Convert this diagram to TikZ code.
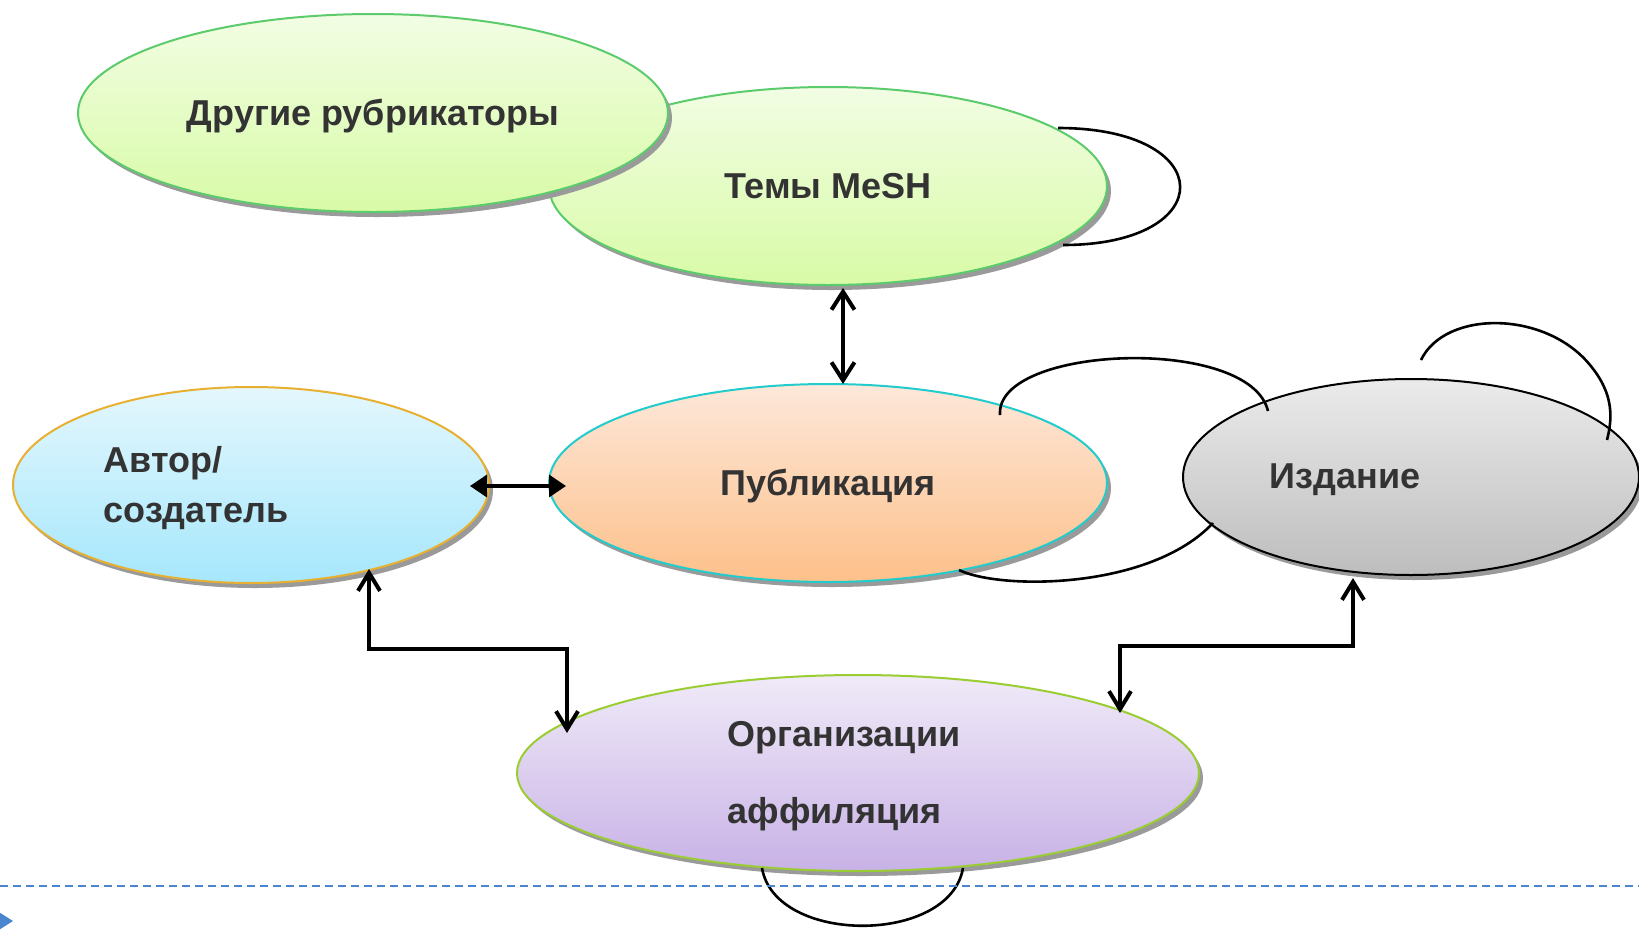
\documentclass[tikz,border=0pt]{standalone}
\usepackage{fontspec}
\setmainfont{Liberation Sans}
\usetikzlibrary{shapes.geometric,arrows.meta,calc}
\definecolor{txt}{HTML}{333333}
\definecolor{shadowgray}{HTML}{9A9A9A}
\definecolor{greenTop}{HTML}{F2FDE4}
\definecolor{greenBot}{HTML}{D8FBA6}
\definecolor{greenLine}{HTML}{5CCB6C}
\definecolor{pubTop}{HTML}{FDE8DA}
\definecolor{pubBot}{HTML}{FDC08A}
\definecolor{pubLine}{HTML}{22CCCC}
\definecolor{autTop}{HTML}{E4F7FD}
\definecolor{autBot}{HTML}{A6E7FC}
\definecolor{autLine}{HTML}{E8B030}
\definecolor{izdTop}{HTML}{EBEBEB}
\definecolor{izdBot}{HTML}{BDBDBD}
\definecolor{orgTop}{HTML}{F0EAF8}
\definecolor{orgBot}{HTML}{C8B2E6}
\definecolor{orgLine}{HTML}{9ACD32}
\definecolor{dashblue}{HTML}{4A86D0}
\begin{document}
\begin{tikzpicture}[x=1pt,y=-1pt,
  ell/.style={ellipse, inner sep=0pt, line width=2pt},
  shad/.style={ellipse, inner sep=0pt, fill=shadowgray},
  lbl/.style={font=\fontsize{36}{42}\selectfont\bfseries, text=txt, yshift=-3pt},
  loopline/.style={line width=2.6pt, black},
  barbs/.style={line width=4pt, arrows={Straight Barb[length=18pt,width=23pt]-Straight Barb[length=18pt,width=23pt]}},
  elbow/.style={line width=4pt, arrows={Straight Barb[length=18pt,width=22pt]-Straight Barb[length=18pt,width=22pt]}},
  tris/.style={line width=3.5pt, arrows={Triangle[length=17pt,width=22pt]-Triangle[length=17pt,width=22pt]}}
]
\useasboundingbox (0,0) rectangle (1639,930);

% Темы MeSH
\node[shad, minimum width=558pt, minimum height=198pt] (meshsh) at (832,191) {};
\node[ell, minimum width=558pt, minimum height=198pt, top color=greenTop, bottom color=greenBot, draw=greenLine] (mesh) at (828,186) {};
\node[lbl, yshift=3pt] (meshtext) at (mesh.center) {Темы MeSH};
% Другие рубрикаторы
\node[shad, minimum width=590pt, minimum height=198pt] (othersh) at (377,118) {};
\node[ell, minimum width=590pt, minimum height=198pt, top color=greenTop, bottom color=greenBot, draw=greenLine] (other) at (373,113) {};
\node[lbl] (othertext) at (other.center) {Другие рубрикаторы};
% Публикация
\node[shad, minimum width=558pt, minimum height=198pt] (pubsh) at (832,488) {};
\node[ell, minimum width=558pt, minimum height=198pt, top color=pubTop, bottom color=pubBot, draw=pubLine] (pub) at (828,483) {};
\node[lbl] (pubtext) at (pub.center) {Публикация};
% Автор
\node[shad, minimum width=476pt, minimum height=196pt] (authsh) at (255,490) {};
\node[ell, minimum width=476pt, minimum height=196pt, top color=autTop, bottom color=autBot, draw=autLine] (author) at (251,485) {};
\node[lbl, anchor=west, align=left, font=\fontsize{36}{50}\selectfont\bfseries] (authortext) at (100,485) {Автор/\\создатель};
% Издание
\node[shad, minimum width=456pt, minimum height=196pt] (izdsh) at (1415,482) {};
\node[ell, minimum width=456pt, minimum height=196pt, top color=izdTop, bottom color=izdBot, draw=black] (izd) at (1411,477) {};
\node[lbl] (izdtext) at (1345,477) {Издание};
% Организации
\node[shad, minimum width=682pt, minimum height=196pt] (orgsh) at (862,778) {};
\node[ell, minimum width=682pt, minimum height=196pt, top color=orgTop, bottom color=orgBot, draw=orgLine] (org) at (858,773) {};
\node[lbl, anchor=west, align=left, font=\fontsize{36}{77}\selectfont\bfseries] (orgtext) at (724,773) {Организации\\аффиляция};

% loops
\draw[loopline] ($(mesh.center)+(230,-58)$) .. controls +(162,0) and +(157,0) .. ($(mesh.center)+(235,59)$);
\draw[loopline] ($(pub.center)+(172,-68)$) .. controls +(-5,-70) and +(-18,-76) .. ($(izd.center)+(-143,-66)$);
\draw[loopline] ($(pub.center)+(131,87)$) .. controls +(41,20) and +(-63,67) .. ($(izd.center)+(-198,46)$);
\draw[loopline] ($(izd.center)+(10,-117)$) .. controls +(24,-50) and +(-45,-55) .. ($(izd.center)+(179,-112)$)
  .. controls +(25,30) and +(5,-20) .. ($(izd.center)+(196,-37)$);
\draw[loopline] ($(org.center)+(-96,95)$) .. controls +(13,77) and +(-13,77) .. ($(org.center)+(105,95)$);

% arrows
\draw[barbs] ($(mesh.south)+(15,2)$) -- ($(pub.north)+(15,1)$);
\draw[tris] ($(author.east)+(-20,1)$) -- ($(pub.west)+(18,3)$);
\draw[elbow] ($(author.south)+(118,-15)$) |- ($(org.north)+(-291,-25)$) -- ($(org.north)+(-291,59)$);
\draw[elbow] ($(org.north)+(262,39)$) |- ($(izd.south)+(-58,70)$) -- ($(izd.south)+(-58,2)$);

% bottom dashed line and marker
\coordinate (dl) at (0,886);
\coordinate (dr) at (1639,886);
\draw[dashblue, line width=2pt, dash pattern=on 8pt off 5pt] (dl) -- (dr);
\fill[dashblue] (-6,909) -- (13,921) -- (-6,933) -- cycle;
\end{tikzpicture}
\end{document}
